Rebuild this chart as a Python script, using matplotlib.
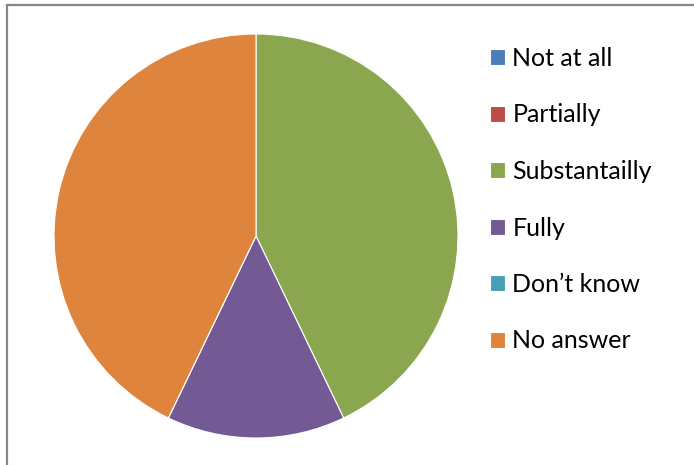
import matplotlib
matplotlib.use("Agg")
import matplotlib.pyplot as plt
from matplotlib.lines import Line2D

categories = ["Not at all", "Partially", "Substantailly", "Fully", "Don\u2019t know", "No answer"]
values = [0, 0, 3, 1, 0, 3]
colors = ["#4A7EBB", "#BE4B48", "#8AA64F", "#735A94", "#46A0B7", "#DE843C"]

plt.rcParams['font.family'] = ['Lato', 'DejaVu Sans']

W, H = 694, 465
fig = plt.figure(figsize=(W / 100, H / 100), dpi=100)
cx, cy, r = 256, 236, 202
ax = fig.add_axes([(cx - r) / W, (H - cy - r) / H, 2 * r / W, 2 * r / H])
wedges, _ = ax.pie(values, colors=colors, startangle=90, counterclock=False,
                   radius=1, wedgeprops=dict(linewidth=0.8, edgecolor='white'))
ax.set_xlim(-1, 1)
ax.set_ylim(-1, 1)
ax.set_aspect('equal')
ax.axis('off')

fig.legend(wedges, categories, loc='upper left',
           bbox_to_anchor=(490 / W, 1 - 47 / H), frameon=False,
           fontsize=18, handlelength=0.6, handleheight=0.6,
           handletextpad=0.3, labelspacing=1.34, borderaxespad=0, borderpad=0)

# partial frame (left and top)
fig.add_artist(Line2D([6.5 / W, 6.5 / W], [0, 1 - 5.5 / H], transform=fig.transFigure,
                      color='#868686', linewidth=1.6))
fig.add_artist(Line2D([6.5 / W, 1], [1 - 5.5 / H, 1 - 5.5 / H], transform=fig.transFigure,
                      color='#868686', linewidth=1.6))

fig.savefig("out.png", dpi=100)
